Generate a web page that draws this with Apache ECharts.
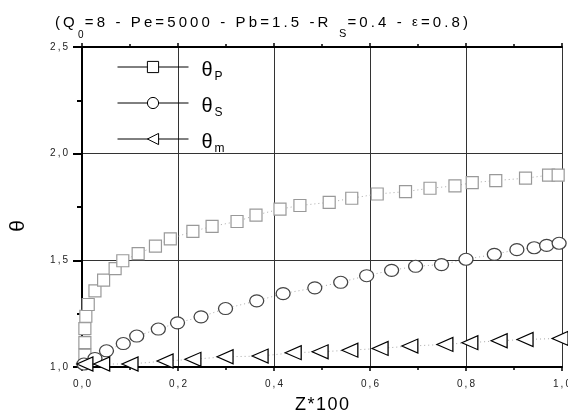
<!DOCTYPE html>
<html>
<head>
<meta charset="utf-8">
<script src="https://cdn.jsdelivr.net/npm/echarts@6/dist/echarts.min.js"></script>
<style>html,body{margin:0;padding:0;background:#fff;}#c{width:568px;height:419px;}</style>
</head>
<body>
<div id="c"></div>
<script>
const xP = [0.006,0.006,0.006,0.008,0.013,0.027,0.045,0.069,0.085,0.117,0.153,0.184,0.231,0.271,0.323,0.3625,0.4125,0.454,0.515,0.562,0.615,0.674,0.725,0.777,0.813,0.862,0.924,0.972,0.992];
const yP = [1.056,1.114,1.18,1.238,1.293,1.357,1.407,1.461,1.498,1.531,1.567,1.601,1.636,1.659,1.682,1.712,1.740,1.757,1.772,1.791,1.811,1.822,1.838,1.849,1.864,1.874,1.885,1.899,1.899];
const xS = [0.004,0.027,0.051,0.086,0.114,0.159,0.199,0.248,0.299,0.364,0.419,0.485,0.539,0.593,0.645,0.695,0.749,0.800,0.859,0.906,0.942,0.968,0.994];
const yS = [1.014,1.040,1.076,1.110,1.145,1.178,1.207,1.235,1.274,1.310,1.344,1.371,1.397,1.428,1.453,1.472,1.480,1.505,1.528,1.550,1.559,1.570,1.580];
const xM = [0.006,0.041,0.100,0.173,0.231,0.298,0.371,0.440,0.496,0.558,0.621,0.683,0.756,0.808,0.869,0.923,0.996];
const yM = [1.014,1.014,1.014,1.028,1.036,1.048,1.051,1.067,1.071,1.079,1.087,1.098,1.106,1.114,1.123,1.129,1.134];
const seriesNames = ['θP','θS','θm'];
const xTicks = [0,0.2,0.4,0.6,0.8,1.0];
const yTicks = [1.0,1.5,2.0,2.5];

const zip = (a,b) => a.map((v,i)=>[v,b[i]]);
const font = 'Liberation Sans, Arial, sans-serif';
// letter-spaced rich text: every char but the last gets style `st`, last gets `stL`
const spaced = (txt, st, stL) => Array.from(txt).map((ch,i,arr) => '{' + (i === arr.length-1 && stL ? stL : st) + '|' + ch + '}').join('');
const comma = v => spaced(v.toFixed(1).replace('.', ','), 'c', 'cl');

const chart = echarts.init(document.getElementById('c'));
const lineDot = {color:'#aaa', width:1, type:[1,3]};
const legendItem = (name) => ({name, itemStyle:{color:'#fff', borderColor:'#000', borderWidth:1}, lineStyle:{color:'#000', width:1, type:'solid'}});
const TS = 15, SP = 3.1;
const tickRich = {c:{fontSize:10, color:'#222', fontFamily:font, padding:[0,2,0,0]}, cl:{fontSize:10, color:'#222', fontFamily:font}};
chart.setOption({
  animation:false,
  backgroundColor:'#fff',
  textStyle:{fontFamily:font},
  title:{
    text: spaced('(Q', 'a') + '{g1|}' + spaced('=8 - Pe=5000 - Pb=1.5 -R', 'a') + '{g2|}' + spaced('=0.4 - ', 'a') + '{e|ε}' + spaced('=0.8)', 'a'),
    left:50, top:10,
    textStyle:{fontSize:TS, fontWeight:'normal', color:'#000', fontFamily:font, rich:{
      a:{fontSize:TS, color:'#000', fontFamily:font, padding:[0,SP,0,0]},
      g1:{width:7, fontSize:TS},
      g2:{width:16, fontSize:TS},
      e:{fontSize:13, color:'#000', fontFamily:font, padding:[0,SP,0,0]}
    }}
  },
  graphic:[
    {type:'text', left:78, top:30, style:{text:'0', fontSize:10, fill:'#000', fontFamily:font}},
    {type:'text', left:339, top:28, style:{text:'S', fontSize:11, fill:'#000', fontFamily:font}}
  ],
  legend:{
    orient:'vertical', left:112, top:55,
    itemWidth:71, itemHeight:14, itemGap:13,
    data:seriesNames.map(legendItem),
    formatter: n => '{t|θ}{s|' + n.slice(1) + '}',
    textStyle:{rich:{
      t:{fontSize:20, color:'#000', fontFamily:font, padding:[6,2,0,8]},
      s:{fontSize:12, color:'#000', fontFamily:font, padding:[20,0,0,0]}
    }}
  },
  grid:{left:82, right:6, top:47, bottom:52, outerBoundsMode:'none', containLabel:false},
  xAxis:[{
    type:'value', min:xTicks[0], max:xTicks[xTicks.length-1], interval:0.2,
    name: spaced('Z*100', 'n', 'nl'), nameLocation:'middle', nameGap:29,
    nameTextStyle:{fontSize:18, color:'#000', fontFamily:font, rich:{
      n:{fontSize:18, color:'#000', fontFamily:font, padding:[0,1.5,0,0]},
      nl:{fontSize:18, color:'#000', fontFamily:font}
    }},
    axisLine:{show:true, onZero:false, lineStyle:{color:'#000', width:2}},
    axisTick:{show:true, inside:false, length:4, lineStyle:{color:'#000', width:1.5}},
    minorTick:{show:true, splitNumber:2, length:3, lineStyle:{color:'#000', width:1.5}},
    axisLabel:{fontSize:10, color:'#222', margin:12, formatter:comma, fontFamily:font, rich:tickRich},
    splitLine:{show:true, lineStyle:{color:'#333', width:1}}
  },{
    type:'value', position:'top', min:0, max:1, interval:0.2,
    axisLine:{show:true, lineStyle:{color:'#000', width:2}},
    axisTick:{show:true, length:4, lineStyle:{color:'#000', width:1.5}},
    minorTick:{show:true, splitNumber:2, length:3, lineStyle:{color:'#000', width:1.5}},
    axisLabel:{show:false}, splitLine:{show:false}
  }],
  yAxis:[{
    type:'value', min:yTicks[0], max:yTicks[yTicks.length-1], interval:0.5,
    name:'θ', nameLocation:'middle', nameGap:53,
    nameTextStyle:{fontSize:21, color:'#000', fontFamily:font, padding:[0,38,0,0]},
    axisLine:{show:true, onZero:false, lineStyle:{color:'#000', width:2}},
    axisTick:{show:true, length:9, lineStyle:{color:'#000', width:2}},
    minorTick:{show:true, splitNumber:2, length:5, lineStyle:{color:'#000', width:2}},
    axisLabel:{fontSize:10, color:'#222', margin:14, formatter:comma, fontFamily:font, rich:tickRich},
    splitLine:{show:true, lineStyle:{color:'#333', width:1}}
  },{
    type:'value', position:'right', min:1, max:2.5, interval:0.5,
    axisLine:{show:true, lineStyle:{color:'#000', width:2}},
    axisTick:{show:false}, axisLabel:{show:false}, splitLine:{show:false}
  }],
  series:[
    {name:seriesNames[0], type:'line', data:zip(xP,yP), symbol:'rect', symbolSize:12, clip:false,
     itemStyle:{color:'#fff', borderColor:'#999', borderWidth:1.2}, lineStyle:lineDot, z:3},
    {name:seriesNames[1], type:'line', data:zip(xS,yS), symbol:'circle', symbolSize:[14,12], clip:false,
     itemStyle:{color:'#fff', borderColor:'#444', borderWidth:1.2}, lineStyle:lineDot, z:3},
    {name:seriesNames[2], type:'line', data:zip(xM,yM), symbol:'triangle', symbolSize:[14,16], symbolRotate:90, clip:false,
     itemStyle:{color:'#fff', borderColor:'#000', borderWidth:1.2}, lineStyle:lineDot, z:3}
  ]
});
</script>
</body>
</html>
